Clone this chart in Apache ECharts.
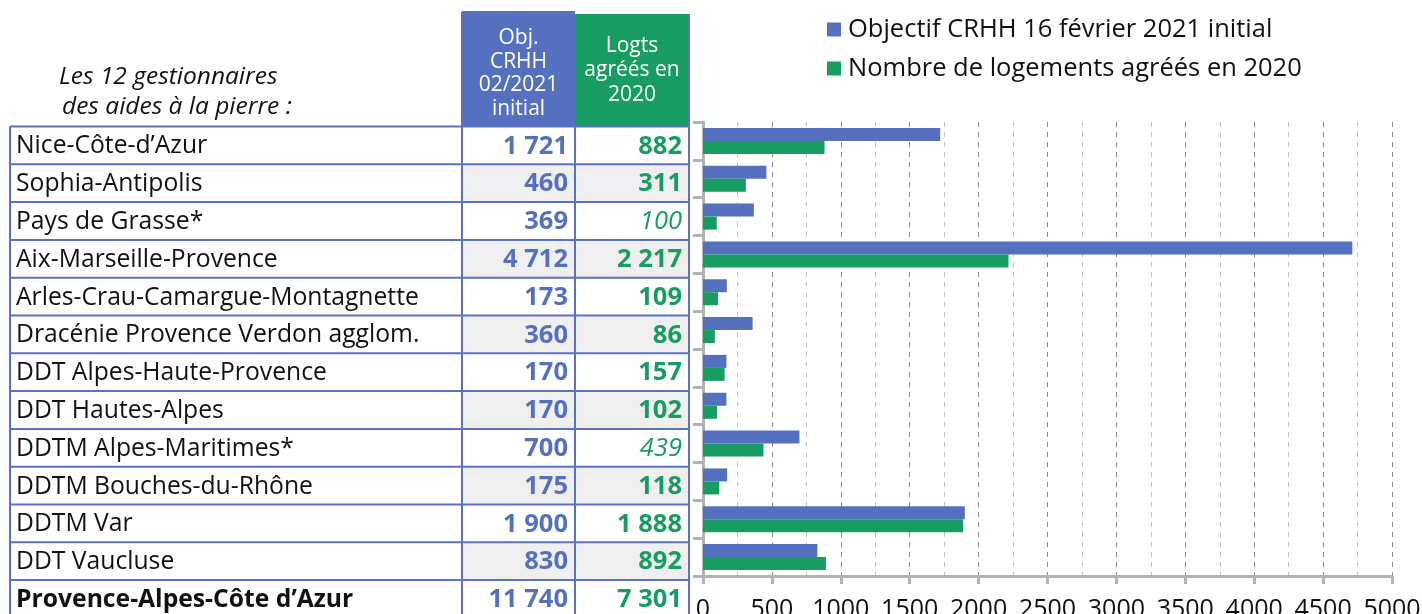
<!DOCTYPE html>
<html>
<head>
<meta charset="utf-8">
<script src="https://cdn.jsdelivr.net/npm/echarts@6/dist/echarts.min.js"></script>
<style>
  html, body { margin: 0; padding: 0; background: #fff; }
  #chart { width: 1422px; height: 614px; }
</style>
</head>
<body>
<div id="chart"></div>
<script>
// les 12 gestionnaires des aides à la pierre
const gestionnaires = [
    'Nice-Côte-d’Azur',
    'Sophia-Antipolis',
    'Pays de Grasse*',
    'Aix-Marseille-Provence',
    'Arles-Crau-Camargue-Montagnette',
    'Dracénie Provence Verdon agglom.',
    'DDT Alpes-Haute-Provence',
    'DDT Hautes-Alpes',
    'DDTM Alpes-Maritimes*',
    'DDTM Bouches-du-Rhône',
    'DDTM Var',
    'DDT Vaucluse'
];
const objectifs = [1721, 460, 369, 4712, 173, 360, 170, 170, 700, 175, 1900, 830];
const logements = [882, 311, 100, 2217, 109, 86, 157, 102, 439, 118, 1888, 892];
// valeurs en italique dans le tableau
const logementsItalique = [false, false, true, false, false, false, false, false, true, false, false, false];
const totalNom = 'Provence-Alpes-Côte d’Azur';
const totalObjectif = 11740;
const totalLogements = 7301;
const enteteObj = ['Obj.', 'CRHH', '02/2021', 'initial'];
const enteteLogts = ['Logts', 'agréés en', '2020'];
const enteteGauche = ['Les 12 gestionnaires', 'des aides à la pierre :'];
const legendeNoms = ['Objectif CRHH 16 février 2021 initial', 'Nombre de logements agréés en 2020'];

const BLEU = '#5570bf';
const VERT = '#179c61';
const BORD = '#5a72c4';
const GRIS = '#b3b3b3';
const FONT = '"Open Sans", "Noto Sans", sans-serif';

function fmt(n) {
    return String(n).replace(/\B(?=(\d{3})+(?!\d))/g, ' ');
}

// géométrie du tableau
const tLeft = 10, c1 = 462, c2 = 575, c3 = 689;
const rowTop = 126.5, rowH = 37.8;

function buildTable() {
    const els = [];
    const nRows = gestionnaires.length + 1;
    const bottom = rowTop + nRows * rowH;

    // entêtes colorées
    els.push({ type: 'rect', shape: { x: c1, y: 12, width: c2 - c1, height: rowTop - 12 }, style: { fill: BLEU } });
    els.push({ type: 'rect', shape: { x: c2, y: 14, width: c3 - c2, height: rowTop - 14 }, style: { fill: VERT } });
    enteteObj.forEach((t, i) => {
        els.push({ type: 'text', style: { text: t, x: (c1 + c2) / 2, y: 38 + i * 23.7, align: 'center', verticalAlign: 'middle', fill: '#fff', font: '21px ' + FONT } });
    });
    enteteLogts.forEach((t, i) => {
        els.push({ type: 'text', style: { text: t, x: (c2 + c3) / 2, y: 46 + i * 24.5, align: 'center', verticalAlign: 'middle', fill: '#fff', font: '21px ' + FONT } });
    });
    enteteGauche.forEach((t, i) => {
        els.push({ type: 'text', style: { text: t, x: 59 + i * 3, y: 77 + i * 30, align: 'left', verticalAlign: 'middle', fill: '#111', font: 'italic 24.5px ' + FONT } });
    });

    // lignes
    for (let i = 0; i < nRows; i++) {
        const y0 = rowTop + i * rowH;
        const yc = y0 + rowH / 2 + 1;
        const isTotal = i === gestionnaires.length;
        if (i % 2 === 1) {
            els.push({ type: 'rect', shape: { x: c1, y: y0, width: c3 - c1, height: rowH }, style: { fill: '#efefef' } });
        }
        const nom = isTotal ? totalNom : gestionnaires[i];
        const obj = isTotal ? totalObjectif : objectifs[i];
        const lg = isTotal ? totalLogements : logements[i];
        const ital = !isTotal && logementsItalique[i];
        els.push({ type: 'text', style: { text: nom, x: 16, y: yc, align: 'left', verticalAlign: 'middle', fill: '#111', font: (isTotal ? 'bold ' : '') + '24.7px ' + FONT } });
        els.push({ type: 'text', style: { text: fmt(obj), x: 568, y: yc, align: 'right', verticalAlign: 'middle', fill: BLEU, font: 'bold 25.5px ' + FONT } });
        els.push({ type: 'text', style: { text: fmt(lg), x: 682, y: yc, align: 'right', verticalAlign: 'middle', fill: VERT, font: (ital ? 'italic ' : 'bold ') + '25.5px ' + FONT } });
    }

    // bordures
    for (let i = 0; i <= nRows; i++) {
        const y = rowTop + i * rowH;
        els.push({ type: 'line', shape: { x1: tLeft, y1: y, x2: c3, y2: y }, style: { stroke: BORD, lineWidth: 2 } });
    }
    [tLeft, c1, c2, c3].forEach(x => {
        els.push({ type: 'line', shape: { x1: x, y1: rowTop, x2: x, y2: bottom }, style: { stroke: BORD, lineWidth: 2 } });
    });
    els.push({ type: 'line', shape: { x1: c1, y1: 12, x2: c1, y2: rowTop }, style: { stroke: BORD, lineWidth: 2 } });
    els.push({ type: 'line', shape: { x1: c1, y1: 12, x2: c2, y2: 12 }, style: { stroke: BORD, lineWidth: 2 } });
    els.push({ type: 'line', shape: { x1: c3, y1: 14, x2: c3, y2: rowTop }, style: { stroke: BORD, lineWidth: 2 } });
    return els;
}

const chart = echarts.init(document.getElementById('chart'));
chart.setOption({
    animation: false,
    textStyle: { fontFamily: FONT },
    legend: {
        orient: 'vertical',
        left: 822,
        top: 10,
        icon: 'rect',
        itemWidth: 14,
        itemHeight: 14,
        itemGap: 10,
        textStyle: { fontSize: 25.5, color: '#111', lineHeight: 29, padding: [0, 0, 0, 2] },
        data: legendeNoms
    },
    grid: {
        left: 703,
        right: 30,
        top: 122,
        bottom: 38,
        outerBoundsMode: 'none'
    },
    xAxis: {
        type: 'value',
        min: 0,
        max: 5000,
        interval: 500,
        axisLine: { show: true, lineStyle: { color: GRIS, width: 3 } },
        axisTick: { show: true, length: 8, lineStyle: { color: GRIS, width: 3 } },
        axisLabel: { fontSize: 25, color: '#111', margin: 21, formatter: v => String(v) },
        splitLine: { show: true, lineStyle: { color: '#8a8a8a', type: [5, 5], width: 1 } },
        minorTick: { show: false, splitNumber: 2 },
        minorSplitLine: { show: true, lineStyle: { color: '#c4c4c4', type: [5, 5], width: 1 } }
    },
    yAxis: {
        type: 'category',
        inverse: true,
        data: gestionnaires,
        axisLine: { show: true, lineStyle: { color: GRIS, width: 3 } },
        axisTick: { show: true, length: 10, lineStyle: { color: GRIS, width: 3 } },
        axisLabel: { show: false },
        splitLine: { show: false }
    },
    series: [
        {
            name: legendeNoms[0],
            type: 'bar',
            data: objectifs,
            barWidth: 13,
            barGap: '0%',
            itemStyle: { color: BLEU }
        },
        {
            name: legendeNoms[1],
            type: 'bar',
            data: logements,
            barWidth: 13,
            barGap: '0%',
            itemStyle: { color: VERT }
        }
    ],
    graphic: buildTable()
});
</script>
</body>
</html>
